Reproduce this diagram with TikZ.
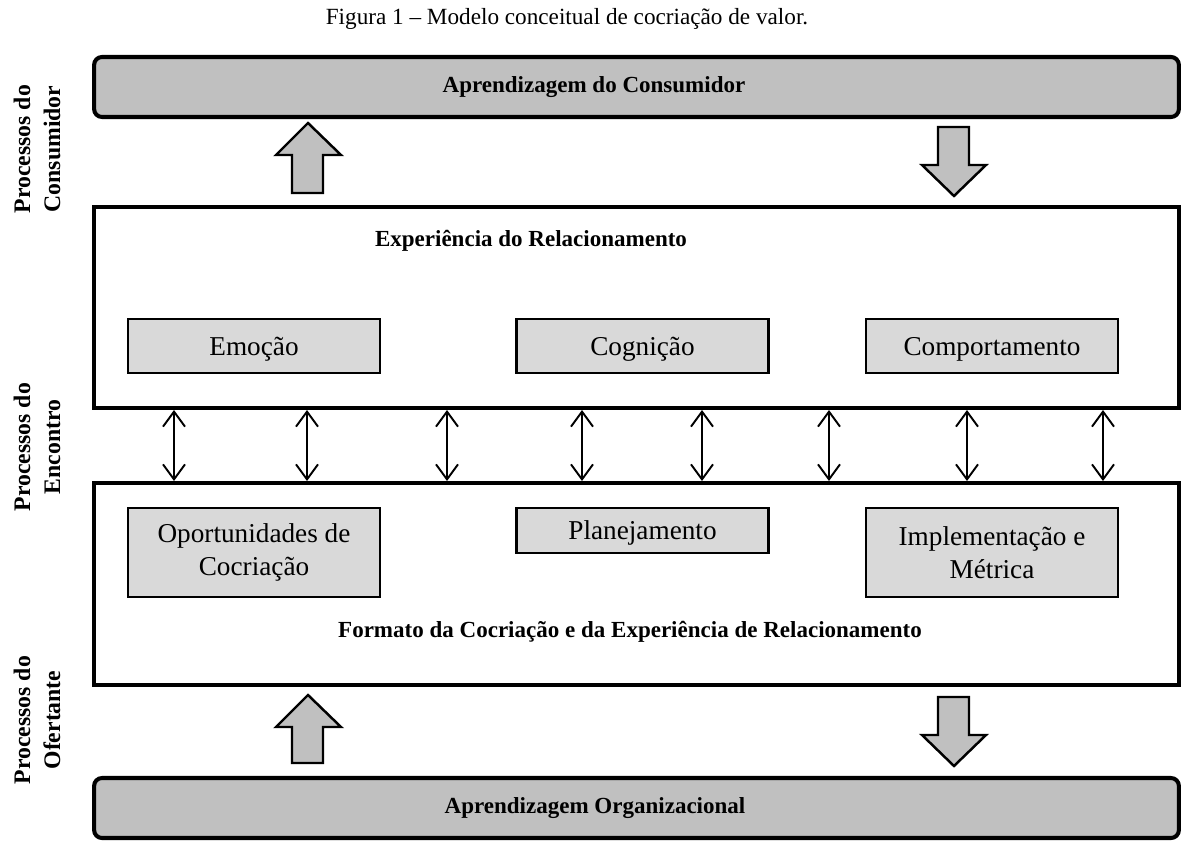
\documentclass[tikz,border=0pt]{standalone}
\usepackage{fontspec}
\setmainfont{Liberation Serif}
\usetikzlibrary{arrows.meta}
\definecolor{cinzaforte}{HTML}{C0C0C0}
\definecolor{cinzaclaro}{HTML}{D9D9D9}

\begin{document}
\begin{tikzpicture}[x=0.02cm, y=-0.02cm,
	faixa/.style={draw, line width=2.3pt, fill=cinzaforte, rounded corners=4.5pt,
		minimum width=21.7cm, minimum height=1.2cm, inner sep=0pt},
	bloco/.style={draw, line width=2.3pt, fill=white, minimum width=21.7cm, inner sep=0pt},
	caixa/.style={draw, line width=1.4pt, fill=cinzaclaro, minimum width=5.04cm, inner sep=0pt,
		align=center, font=\fontsize{15.5}{18.5}\selectfont},
	umalinha/.style={text depth=0pt, minimum height=#1},
	seta/.style={draw, line width=1.4pt, fill=cinzaforte},
	dupla/.style={line width=1.1pt,
		{Straight Barb[length=0.3cm, width=0.44cm]}-{Straight Barb[length=0.3cm, width=0.44cm]}},
	rotulo/.style={font=\fontsize{13.1}{16}\selectfont\bfseries},
	lateral/.style={rotate=90, align=center, font=\fontsize{13.5}{17}\selectfont\bfseries}]
	\useasboundingbox (0,0) rectangle (1183,841);
	
	% legenda
	\node (legenda) at (567,19) {\fontsize{13.2}{16}\selectfont Figura 1 -- Modelo conceitual de cocriação de valor.};
	
	% faixas e blocos
	\node[faixa] (consumidor) at (636.5,87) {};
	\node[bloco, minimum height=4.02cm] (exp) at (636.5,307.5) {};
	\node[bloco, minimum height=4.04cm] (fmt) at (636.5,584) {};
	\node[faixa] (organizacional) at (636.5,808) {};
	
	\node[rotulo] (tconsumidor) at (594,87) {Aprendizagem do Consumidor};
	\node[rotulo] (texp) at (531,241) {Experiência do Relacionamento};
	\node[rotulo] (tfmt) at (630,632) {Formato da Cocriação e da Experiência de Relacionamento};
	\node[rotulo] (torganizacional) at (595,808) {Aprendizagem Organizacional};
	
	% caixas internas
	\node[caixa, umalinha=1.08cm] (emocao) at (254,346) {Emoção};
	\node[caixa, umalinha=1.08cm] (cognicao) at (642.5,346) {Cognição};
	\node[caixa, umalinha=1.08cm] (comportamento) at (992,346) {Comportamento};
	\node[caixa, minimum height=1.78cm] (oportunidades) at (254,552.5) {Oportunidades de\\Cocriação};
	\node[caixa, umalinha=0.9cm] (planejamento) at (642.5,530.5) {Planejamento};
	\node[caixa, minimum height=1.78cm] (implementacao) at (992,552.5) {Implementação e\\Métrica};
	
	% setas largas
	\draw[seta] (292,193) -- ++(0,-38) -- ++(-16,0) -- ++(32,-32) -- ++(33,32) -- ++(-18,0) -- ++(0,38) -- cycle;
	\draw[seta] (938,127) -- ++(0,38) -- ++(-16,0) -- ++(32,31) -- ++(32,-31) -- ++(-17,0) -- ++(0,-38) -- cycle;
	\draw[seta] (292,763) -- ++(0,-36) -- ++(-16,0) -- ++(32,-32) -- ++(33,32) -- ++(-18,0) -- ++(0,36) -- cycle;
	\draw[seta] (938,697) -- ++(0,38) -- ++(-16,0) -- ++(32,31) -- ++(32,-31) -- ++(-17,0) -- ++(0,-38) -- cycle;
	
	% setas duplas entre os blocos
	\foreach \x [count=\i] in {174,307,447,582,702,829,967,1103}{
		\coordinate (p\i) at (\x,0);
		\draw[dupla] (exp.south -| p\i) -- (fmt.north -| p\i);
	}
	
	% processos
	\node[lateral] (pconsumidor) at (37,149) {Processos do\\Consumidor};
	\node[lateral] (pencontro) at (37,447) {Processos do\\Encontro};
	\node[lateral] (pofertante) at (37,720) {Processos do\\Ofertante};
\end{tikzpicture}
\end{document}
